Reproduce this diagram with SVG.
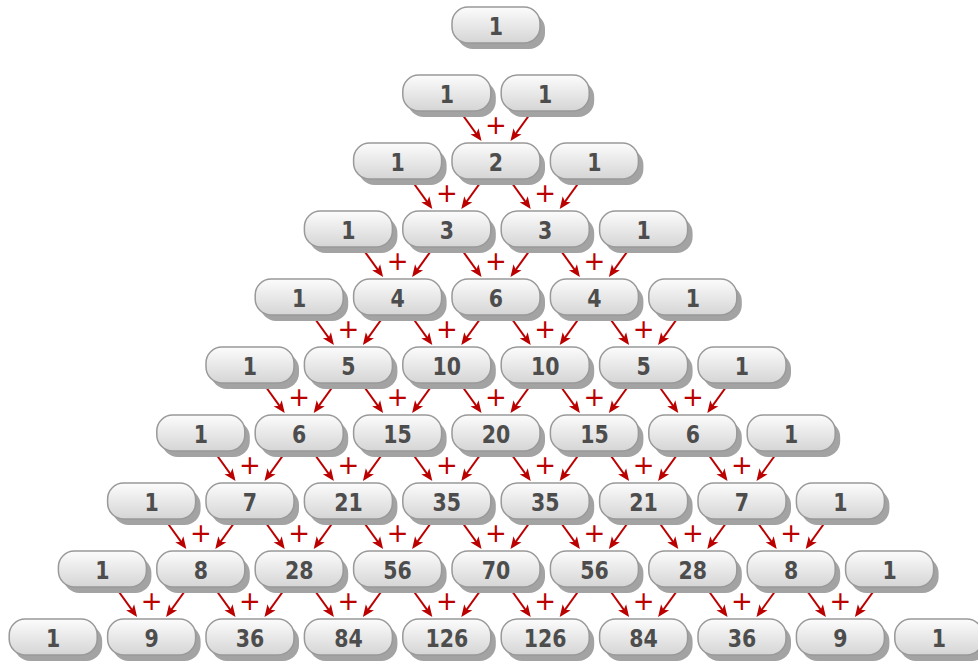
<svg xmlns="http://www.w3.org/2000/svg" xmlns:xlink="http://www.w3.org/1999/xlink" width="978" height="662" viewBox="0 0 978 662">
<style>
.t{font-family:"DejaVu Sans",sans-serif;font-weight:bold;font-size:25px;fill:#4d4d4d;text-anchor:middle}
.a{stroke:#bb0000;stroke-width:2;fill:none;marker-end:url(#ah)}
.p{font-family:"DejaVu Sans",sans-serif;font-size:26px;fill:#bb0000;text-anchor:middle}
</style>
<defs>
<linearGradient id="g" x1="0" y1="0" x2="0" y2="1">
<stop offset="0" stop-color="#fcfcfc"/>
<stop offset="1" stop-color="#d5d5d5"/>
</linearGradient>
<marker id="ah" markerUnits="userSpaceOnUse" markerWidth="12" markerHeight="10" refX="9" refY="5" orient="auto" overflow="visible">
<path d="M0,0 L12,5 L0,10 L3,5 z" fill="#bb0000"/>
</marker>
<g id="box">
<rect x="-39" y="-12" width="88" height="36" rx="16" fill="#a3a3a3"/>
<rect x="-44" y="-18" width="88" height="36" rx="16" fill="url(#g)" stroke="#999" stroke-width="1.5"/>
</g>
<g id="join">
<path class="a" d="M-35.45,-49 L-16.26,-22.43"/>
<path class="a" d="M35.45,-49 L16.26,-22.43"/>
<text class="p" x="0" y="-27.5">+</text>
</g>
</defs>
<rect width="978" height="662" fill="#fff"/>
<g id="connectors">
<use href="#join" x="496" y="161"/>
<use href="#join" x="446.8" y="229"/><use href="#join" x="545.2" y="229"/>
<use href="#join" x="397.6" y="297"/><use href="#join" x="496" y="297"/><use href="#join" x="594.4" y="297"/>
<use href="#join" x="348.4" y="365"/><use href="#join" x="446.8" y="365"/><use href="#join" x="545.2" y="365"/><use href="#join" x="643.6" y="365"/>
<use href="#join" x="299.2" y="433"/><use href="#join" x="397.6" y="433"/><use href="#join" x="496" y="433"/><use href="#join" x="594.4" y="433"/><use href="#join" x="692.8" y="433"/>
<use href="#join" x="250" y="501"/><use href="#join" x="348.4" y="501"/><use href="#join" x="446.8" y="501"/><use href="#join" x="545.2" y="501"/><use href="#join" x="643.6" y="501"/><use href="#join" x="742" y="501"/>
<use href="#join" x="200.8" y="569"/><use href="#join" x="299.2" y="569"/><use href="#join" x="397.6" y="569"/><use href="#join" x="496" y="569"/><use href="#join" x="594.4" y="569"/><use href="#join" x="692.8" y="569"/><use href="#join" x="791.2" y="569"/>
<use href="#join" x="151.6" y="637"/><use href="#join" x="250" y="637"/><use href="#join" x="348.4" y="637"/><use href="#join" x="446.8" y="637"/><use href="#join" x="545.2" y="637"/><use href="#join" x="643.6" y="637"/><use href="#join" x="742" y="637"/><use href="#join" x="840.4" y="637"/>
</g>
<g id="nodes">
<g id="n0-0" transform="translate(496,25)"><use href="#box"/><text class="t" y="9.5" transform="scale(0.82,1)">1</text></g>

<g id="n1-0" transform="translate(446.8,93)"><use href="#box"/><text class="t" y="9.5" transform="scale(0.82,1)">1</text></g>
<g id="n1-1" transform="translate(545.2,93)"><use href="#box"/><text class="t" y="9.5" transform="scale(0.82,1)">1</text></g>

<g id="n2-0" transform="translate(397.6,161)"><use href="#box"/><text class="t" y="9.5" transform="scale(0.82,1)">1</text></g>
<g id="n2-1" transform="translate(496,161)"><use href="#box"/><text class="t" y="9.5" transform="scale(0.82,1)">2</text></g>
<g id="n2-2" transform="translate(594.4,161)"><use href="#box"/><text class="t" y="9.5" transform="scale(0.82,1)">1</text></g>

<g id="n3-0" transform="translate(348.4,229)"><use href="#box"/><text class="t" y="9.5" transform="scale(0.82,1)">1</text></g>
<g id="n3-1" transform="translate(446.8,229)"><use href="#box"/><text class="t" y="9.5" transform="scale(0.82,1)">3</text></g>
<g id="n3-2" transform="translate(545.2,229)"><use href="#box"/><text class="t" y="9.5" transform="scale(0.82,1)">3</text></g>
<g id="n3-3" transform="translate(643.6,229)"><use href="#box"/><text class="t" y="9.5" transform="scale(0.82,1)">1</text></g>

<g id="n4-0" transform="translate(299.2,297)"><use href="#box"/><text class="t" y="9.5" transform="scale(0.82,1)">1</text></g>
<g id="n4-1" transform="translate(397.6,297)"><use href="#box"/><text class="t" y="9.5" transform="scale(0.82,1)">4</text></g>
<g id="n4-2" transform="translate(496,297)"><use href="#box"/><text class="t" y="9.5" transform="scale(0.82,1)">6</text></g>
<g id="n4-3" transform="translate(594.4,297)"><use href="#box"/><text class="t" y="9.5" transform="scale(0.82,1)">4</text></g>
<g id="n4-4" transform="translate(692.8,297)"><use href="#box"/><text class="t" y="9.5" transform="scale(0.82,1)">1</text></g>

<g id="n5-0" transform="translate(250,365)"><use href="#box"/><text class="t" y="9.5" transform="scale(0.82,1)">1</text></g>
<g id="n5-1" transform="translate(348.4,365)"><use href="#box"/><text class="t" y="9.5" transform="scale(0.82,1)">5</text></g>
<g id="n5-2" transform="translate(446.8,365)"><use href="#box"/><text class="t" y="9.5" transform="scale(0.82,1)">10</text></g>
<g id="n5-3" transform="translate(545.2,365)"><use href="#box"/><text class="t" y="9.5" transform="scale(0.82,1)">10</text></g>
<g id="n5-4" transform="translate(643.6,365)"><use href="#box"/><text class="t" y="9.5" transform="scale(0.82,1)">5</text></g>
<g id="n5-5" transform="translate(742,365)"><use href="#box"/><text class="t" y="9.5" transform="scale(0.82,1)">1</text></g>

<g id="n6-0" transform="translate(200.8,433)"><use href="#box"/><text class="t" y="9.5" transform="scale(0.82,1)">1</text></g>
<g id="n6-1" transform="translate(299.2,433)"><use href="#box"/><text class="t" y="9.5" transform="scale(0.82,1)">6</text></g>
<g id="n6-2" transform="translate(397.6,433)"><use href="#box"/><text class="t" y="9.5" transform="scale(0.82,1)">15</text></g>
<g id="n6-3" transform="translate(496,433)"><use href="#box"/><text class="t" y="9.5" transform="scale(0.82,1)">20</text></g>
<g id="n6-4" transform="translate(594.4,433)"><use href="#box"/><text class="t" y="9.5" transform="scale(0.82,1)">15</text></g>
<g id="n6-5" transform="translate(692.8,433)"><use href="#box"/><text class="t" y="9.5" transform="scale(0.82,1)">6</text></g>
<g id="n6-6" transform="translate(791.2,433)"><use href="#box"/><text class="t" y="9.5" transform="scale(0.82,1)">1</text></g>

<g id="n7-0" transform="translate(151.6,501)"><use href="#box"/><text class="t" y="9.5" transform="scale(0.82,1)">1</text></g>
<g id="n7-1" transform="translate(250,501)"><use href="#box"/><text class="t" y="9.5" transform="scale(0.82,1)">7</text></g>
<g id="n7-2" transform="translate(348.4,501)"><use href="#box"/><text class="t" y="9.5" transform="scale(0.82,1)">21</text></g>
<g id="n7-3" transform="translate(446.8,501)"><use href="#box"/><text class="t" y="9.5" transform="scale(0.82,1)">35</text></g>
<g id="n7-4" transform="translate(545.2,501)"><use href="#box"/><text class="t" y="9.5" transform="scale(0.82,1)">35</text></g>
<g id="n7-5" transform="translate(643.6,501)"><use href="#box"/><text class="t" y="9.5" transform="scale(0.82,1)">21</text></g>
<g id="n7-6" transform="translate(742,501)"><use href="#box"/><text class="t" y="9.5" transform="scale(0.82,1)">7</text></g>
<g id="n7-7" transform="translate(840.4,501)"><use href="#box"/><text class="t" y="9.5" transform="scale(0.82,1)">1</text></g>

<g id="n8-0" transform="translate(102.4,569)"><use href="#box"/><text class="t" y="9.5" transform="scale(0.82,1)">1</text></g>
<g id="n8-1" transform="translate(200.8,569)"><use href="#box"/><text class="t" y="9.5" transform="scale(0.82,1)">8</text></g>
<g id="n8-2" transform="translate(299.2,569)"><use href="#box"/><text class="t" y="9.5" transform="scale(0.82,1)">28</text></g>
<g id="n8-3" transform="translate(397.6,569)"><use href="#box"/><text class="t" y="9.5" transform="scale(0.82,1)">56</text></g>
<g id="n8-4" transform="translate(496,569)"><use href="#box"/><text class="t" y="9.5" transform="scale(0.82,1)">70</text></g>
<g id="n8-5" transform="translate(594.4,569)"><use href="#box"/><text class="t" y="9.5" transform="scale(0.82,1)">56</text></g>
<g id="n8-6" transform="translate(692.8,569)"><use href="#box"/><text class="t" y="9.5" transform="scale(0.82,1)">28</text></g>
<g id="n8-7" transform="translate(791.2,569)"><use href="#box"/><text class="t" y="9.5" transform="scale(0.82,1)">8</text></g>
<g id="n8-8" transform="translate(889.6,569)"><use href="#box"/><text class="t" y="9.5" transform="scale(0.82,1)">1</text></g>

<g id="n9-0" transform="translate(53.2,637)"><use href="#box"/><text class="t" y="9.5" transform="scale(0.82,1)">1</text></g>
<g id="n9-1" transform="translate(151.6,637)"><use href="#box"/><text class="t" y="9.5" transform="scale(0.82,1)">9</text></g>
<g id="n9-2" transform="translate(250,637)"><use href="#box"/><text class="t" y="9.5" transform="scale(0.82,1)">36</text></g>
<g id="n9-3" transform="translate(348.4,637)"><use href="#box"/><text class="t" y="9.5" transform="scale(0.82,1)">84</text></g>
<g id="n9-4" transform="translate(446.8,637)"><use href="#box"/><text class="t" y="9.5" transform="scale(0.82,1)">126</text></g>
<g id="n9-5" transform="translate(545.2,637)"><use href="#box"/><text class="t" y="9.5" transform="scale(0.82,1)">126</text></g>
<g id="n9-6" transform="translate(643.6,637)"><use href="#box"/><text class="t" y="9.5" transform="scale(0.82,1)">84</text></g>
<g id="n9-7" transform="translate(742,637)"><use href="#box"/><text class="t" y="9.5" transform="scale(0.82,1)">36</text></g>
<g id="n9-8" transform="translate(840.4,637)"><use href="#box"/><text class="t" y="9.5" transform="scale(0.82,1)">9</text></g>
<g id="n9-9" transform="translate(938.8,637)"><use href="#box"/><text class="t" y="9.5" transform="scale(0.82,1)">1</text></g>
</g>
</svg>
